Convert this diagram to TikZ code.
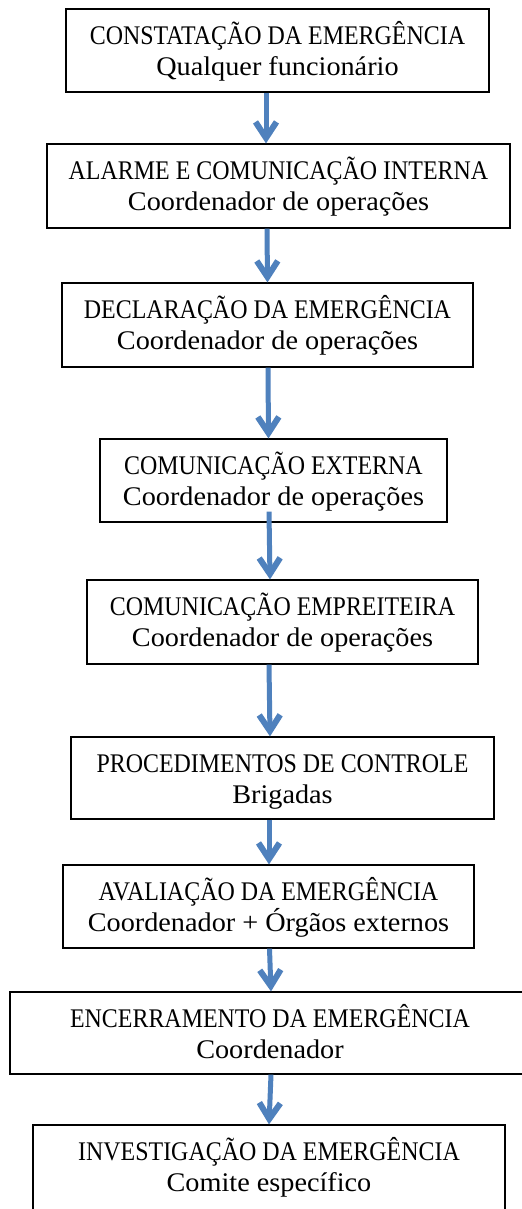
\documentclass[tikz,border=0pt]{standalone}
\usepackage{fontspec}
\setmainfont{Liberation Serif}
\newfontfamily\capfont[FakeStretch=0.89]{Liberation Serif}
\newfontfamily\lowfont[FakeStretch=1.05]{Liberation Serif}
\usetikzlibrary{arrows.meta,calc}
\definecolor{arrblue}{RGB}{79,129,189}
\tikzset{
  boxst/.style={draw=black, line width=1.2bp, rectangle, inner sep=0pt, fill=none},
  capst/.style={inner sep=0pt, font=\capfont\fontsize{27}{31}\selectfont},
  lowst/.style={inner sep=0pt, font=\lowfont\fontsize{27}{31}\selectfont},
  arr/.style={draw=arrblue, line width=5bp, -{Straight Barb[length=16bp,width=21bp,line width=6bp]}}
}
\newcommand\flowbox[7]{%
  \node[boxst, minimum width=#4bp, minimum height=#5bp] (#1) at (#2,#3) {};
  \node[capst, anchor=base] (#1a) at ($(#1.north)+(0,36)$) {#6};
  \node[lowst, anchor=base] (#1b) at ($(#1.north)+(0,67)$) {#7};
}
\begin{document}
\begin{tikzpicture}[x=1bp,y=-1bp]
\clip (0,0) rectangle (522,1209);
\fill[white] (0,0) rectangle (522,1209);
\flowbox{b1}{277.5}{50.5}{423}{83}{CONSTATAÇÃO DA EMERGÊNCIA}{Qualquer funcionário}
\flowbox{b2}{278.5}{186}{463}{84}{ALARME E COMUNICAÇÃO INTERNA}{Coordenador de operações}
\flowbox{b3}{267.5}{325}{411}{84}{DECLARAÇÃO DA EMERGÊNCIA}{Coordenador de operações}
\flowbox{b4}{273.5}{480.5}{347}{83}{COMUNICAÇÃO EXTERNA}{Coordenador de operações}
\flowbox{b5}{282.5}{622}{391}{84}{COMUNICAÇÃO EMPREITEIRA}{Coordenador de operações}
\flowbox{b6}{282.5}{778}{423}{82}{PROCEDIMENTOS DE CONTROLE}{Brigadas}
\flowbox{b7}{268.5}{906.5}{411}{83}{AVALIAÇÃO DA EMERGÊNCIA}{Coordenador + Órgãos externos}
\flowbox{b8}{270}{1033}{520}{82}{ENCERRAMENTO DA EMERGÊNCIA}{Coordenador}
\flowbox{b9}{269}{1167.5}{472}{85}{INVESTIGAÇÃO DA EMERGÊNCIA}{Comite específico}
\draw[arr] (266,0 |- b1.south) -- (266,0 |- b2.north);
\draw[arr] (267,0 |- b2.south) -- (267.5,0 |- b3.north);
\draw[arr] (268,0 |- b3.south) -- (268.5,0 |- b4.north);
\draw[arr] ($(269,0 |- b4.south)+(0,-11)$) -- (270,0 |- b5.north);
\draw[arr] (269,0 |- b5.south) -- (270,0 |- b6.north);
\draw[arr] (269,0 |- b6.south) -- (269,0 |- b7.north);
\draw[arr] (269.5,0 |- b7.south) -- (271,0 |- b8.north);
\draw[arr] (271,0 |- b8.south) -- (269,0 |- b9.north);
\end{tikzpicture}
\end{document}
